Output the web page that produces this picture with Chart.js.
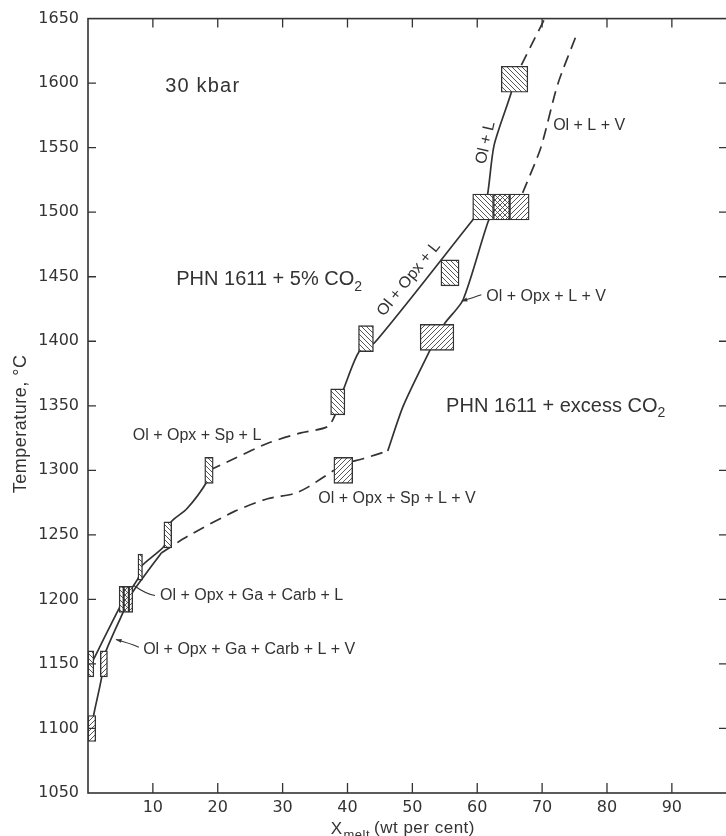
<!DOCTYPE html>
<html>
<head>
<meta charset="utf-8">
<title>PHN 1611 melting at 30 kbar</title>
<script src="https://cdn.jsdelivr.net/npm/chart.js@4.4.1/dist/chart.umd.min.js"></script>
<style>
  html, body { margin: 0; padding: 0; background: #fff; overflow: hidden; }
  #wrap { width: 740px; height: 836px; }
</style>
</head>
<body>
<div id="wrap"><canvas id="myChart" width="740" height="836"></canvas></div>
<script>
'use strict';

//tick values on the axes
let xTickValues = [10, 20, 30, 40, 50, 60, 70, 80, 90];
let tempTickValues = [1050, 1100, 1150, 1200, 1250, 1300, 1350, 1400, 1450, 1500, 1550, 1600, 1650];

//PHN 1611 + 5% CO2 curve, [X melt, T]
let fiveLow = [[0.5, 1150], [4.8, 1193], [6.0, 1203], [7.8, 1217], [8.1, 1225], [11.7, 1241], [12.3, 1250], [12.8, 1260], [15.2, 1270], [18.3, 1291], [18.7, 1300]];
let fiveDash = [[18.7, 1300], [22.5, 1309], [27.7, 1321], [32.8, 1329], [37.0, 1334], [38.3, 1345]];
let fiveMid = [[38.5, 1352], [39.4, 1363], [41.8, 1392], [44.2, 1399], [59.3, 1494], [60.9, 1504], [61.6, 1514], [62.6, 1552], [65.2, 1592], [65.7, 1603]];
let fiveTop = [[66.8, 1614], [68.3, 1629], [70.3, 1649]];

//PHN 1611 + excess CO2 curve, [X melt, T]
let excessLow = [[0.6, 1100], [0.9, 1111], [1.8, 1132], [2.5, 1150], [2.7, 1159], [5.4, 1190], [6.2, 1200], [7.2, 1208], [11.3, 1236]];
let excessDash = [[11.3, 1236], [15.4, 1249], [22.5, 1268], [27.7, 1278], [31.8, 1282], [33.9, 1287], [37.9, 1300]];
let excessDash2 = [[40.8, 1307], [42.4, 1309], [46.2, 1315]];
let excessMid = [[46.2, 1315], [48.6, 1350], [52.7, 1393], [53.8, 1403], [55.0, 1414], [57.8, 1432], [61.7, 1493], [63.0, 1504]];
let excessTop = [[67.0, 1515], [69.8, 1550], [72.4, 1599], [75.5, 1640]];

//experiment brackets: temperature, X melt range, which run
let boxTemp = [1100, 1150, 1150, 1200, 1200, 1200, 1225, 1250, 1300, 1300, 1353, 1402, 1403, 1453, 1504, 1504, 1504, 1603];
let boxFrom = [0, 0, 1.9, 4.8, 5.5, 6.3, 7.7, 11.7, 18.0, 37.9, 37.4, 41.7, 51.2, 54.4, 59.3, 62.5, 65.0, 63.7];
let boxTo = [1.2, 0.9, 3.0, 5.5, 6.3, 6.9, 8.4, 12.9, 19.3, 40.8, 39.6, 44.0, 56.4, 57.2, 62.5, 65.0, 68.0, 67.8];
let boxRun = ['excess', 'five', 'excess', 'five', 'both', 'excess', 'five', 'five', 'five', 'excess', 'five', 'five', 'excess', 'five', 'five', 'both', 'excess', 'five'];

let ink = '#333333';

//hatch pattern for the brackets
function hatch(back, fwd) {
    let size = 5;
    let c = document.createElement('canvas');
    c.width = size;
    c.height = size;
    let g = c.getContext('2d');
    g.fillStyle = '#ffffff';
    g.fillRect(0, 0, size, size);
    g.strokeStyle = '#444444';
    g.lineWidth = 0.9;
    g.beginPath();
    for (let k = -size; k <= size; k += size) {
        if (back) {
            g.moveTo(k, 0);
            g.lineTo(k + size, size);
        }
        if (fwd) {
            g.moveTo(k + size, 0);
            g.lineTo(k, size);
        }
    }
    g.stroke();
    return g.createPattern(c, 'repeat');
}
let patterns = { five: hatch(true, false), excess: hatch(false, true), both: hatch(true, true) };

function toPoints(list) {
    return list.map(p => ({ x: p[0], y: p[1] }));
}

function curve(list, dashed) {
    return {
        type: 'line',
        data: toPoints(list),
        borderColor: ink,
        borderWidth: 1.7,
        borderDash: dashed ? [12, 7] : [],
        pointRadius: 0,
        tension: 0.25,
        fill: false,
        order: 1
    };
}

//labels drawn on the plot, parts are [text, subscript]
let notes = [
    { parts: [['30 kbar']], x: 11.9, t: 1599, size: 20, spacing: 1.2 },
    { parts: [['PHN 1611 + 5% CO'], ['2', true]], x: 13.6, t: 1449, size: 20 },
    { parts: [['PHN 1611 + excess CO'], ['2', true]], x: 55.2, t: 1351, size: 20 },
    { parts: [['Ol + L + V']], x: 71.7, t: 1568, size: 16 },
    { parts: [['Ol + L']], x: 61.1, t: 1554, size: 16, rot: -77, center: true },
    { parts: [['Ol + Opx + L']], x: 49.3, t: 1449, size: 16, rot: -51, center: true },
    { parts: [['Ol + Opx + L + V']], x: 61.4, t: 1436, size: 16 },
    { parts: [['Ol + Opx + Sp + L']], x: 6.9, t: 1328, size: 16 },
    { parts: [['Ol + Opx + Sp + L + V']], x: 35.5, t: 1279, size: 16 },
    { parts: [['Ol + Opx + Ga + Carb + L']], x: 11.1, t: 1204, size: 16 },
    { parts: [['Ol + Opx + Ga + Carb + L + V']], x: 8.5, t: 1162, size: 16 }
];
//leader lines from a label to its curve: from, to, arrow head at the curve
let leaders = [
    { from: [10.8, 1203], mid: [9.0, 1204], to: [7.0, 1211], arrow: false },
    { from: [8.3, 1163], mid: [6.5, 1166], to: [4.3, 1169], arrow: true },
    { from: [61.1, 1436], mid: [59.5, 1434], to: [57.6, 1431], arrow: true }
];

function drawParts(ctx, parts, size) {
    let cx = 0;
    parts.forEach(p => {
        let s = p[1] ? Math.round(size * 0.72) : size;
        ctx.font = s + 'px "Liberation Sans"';
        ctx.fillText(p[0], cx, p[1] ? size * 0.28 : 0);
        cx += ctx.measureText(p[0]).width;
    });
    return cx;
}

function partsWidth(ctx, parts, size) {
    let w = 0;
    parts.forEach(p => {
        let s = p[1] ? Math.round(size * 0.72) : size;
        ctx.font = s + 'px "Liberation Sans"';
        w += ctx.measureText(p[0]).width;
    });
    return w;
}

const decorPlugin = {
    id: 'decor',
    afterDraw(chart) {
        const ctx = chart.ctx;
        const a = chart.chartArea;
        const xs = chart.scales.x;
        const ys = chart.scales.y;
        ctx.save();
        ctx.strokeStyle = ink;
        ctx.fillStyle = ink;
        //frame
        ctx.lineWidth = 1.6;
        ctx.strokeRect(a.left, a.top, a.right - a.left, a.bottom - a.top);
        //inward ticks on all four sides
        ctx.lineWidth = 1.3;
        ctx.beginPath();
        xTickValues.forEach(v => {
            let px = xs.getPixelForValue(v);
            ctx.moveTo(px, a.bottom);
            ctx.lineTo(px, a.bottom - 10);
            ctx.moveTo(px, a.top);
            ctx.lineTo(px, a.top + 9);
        });
        tempTickValues.slice(1, -1).forEach(v => {
            let py = ys.getPixelForValue(v);
            ctx.moveTo(a.left, py);
            ctx.lineTo(a.left + 8, py);
            ctx.moveTo(a.right, py);
            ctx.lineTo(a.right - 8, py);
        });
        ctx.stroke();

        //labels on the plot
        ctx.textBaseline = 'alphabetic';
        ctx.textAlign = 'left';
        notes.forEach(n => {
            ctx.save();
            ctx.letterSpacing = (n.spacing || 0) + 'px';
            ctx.translate(xs.getPixelForValue(n.x), ys.getPixelForValue(n.t));
            if (n.rot) {
                ctx.rotate(n.rot * Math.PI / 180);
            }
            let dx = n.center ? -partsWidth(ctx, n.parts, n.size) / 2 : 0;
            ctx.translate(dx, n.size * 0.36);
            drawParts(ctx, n.parts, n.size);
            ctx.restore();
        });

        //leader lines
        ctx.lineWidth = 1.1;
        leaders.forEach(l => {
            let x0 = xs.getPixelForValue(l.from[0]), y0 = ys.getPixelForValue(l.from[1]);
            let xm = xs.getPixelForValue(l.mid[0]), ym = ys.getPixelForValue(l.mid[1]);
            let x1 = xs.getPixelForValue(l.to[0]), y1 = ys.getPixelForValue(l.to[1]);
            ctx.beginPath();
            ctx.moveTo(x0 - 3, y0);
            ctx.quadraticCurveTo(xm, ym, x1, y1);
            ctx.stroke();
            if (l.arrow) {
                let ang = Math.atan2(y1 - ym, x1 - xm);
                ctx.beginPath();
                ctx.moveTo(x1, y1);
                ctx.lineTo(x1 - 6 * Math.cos(ang - 0.35), y1 - 6 * Math.sin(ang - 0.35));
                ctx.lineTo(x1 - 6 * Math.cos(ang + 0.35), y1 - 6 * Math.sin(ang + 0.35));
                ctx.closePath();
                ctx.fill();
            }
        });

        //axis titles
        ctx.save();
        ctx.letterSpacing = '0.5px';
        ctx.translate(20, ys.getPixelForValue(1336));
        ctx.rotate(-Math.PI / 2);
        ctx.font = '18px "Liberation Sans"';
        let tw = ctx.measureText('Temperature, °C').width;
        ctx.fillText('Temperature, °C', -tw / 2, 6);
        ctx.restore();

        ctx.save();
        ctx.letterSpacing = '0.5px';
        let tx = xs.getPixelForValue(37.4);
        let ty = a.bottom + 41;
        ctx.font = '17px "Liberation Sans"';
        ctx.fillText('X', tx, ty);
        tx += ctx.measureText('X').width + 1;
        ctx.font = '13px "Liberation Sans"';
        ctx.fillText('melt', tx, ty + 5);
        tx += ctx.measureText('melt').width + 4;
        ctx.font = '17px "Liberation Sans"';
        ctx.fillText('(wt per cent)', tx, ty - 1);
        ctx.restore();

        ctx.restore();
    }
};

let boxData = boxTemp.map((t, i) => ({ x: [boxFrom[i], boxTo[i]], y: t }));

let datasets = [
    {
        type: 'bar',
        indexAxis: 'y',
        data: boxData,
        backgroundColor: boxRun.map(r => patterns[r]),
        borderColor: ink,
        borderWidth: 1.4,
        borderSkipped: false,
        barThickness: 26,
        order: 0
    },
    curve(fiveLow, false),
    curve(fiveDash, true),
    curve(fiveMid, false),
    curve(fiveTop, true),
    curve(excessLow, false),
    curve(excessDash, true),
    curve(excessDash2, true),
    curve(excessMid, false),
    curve(excessTop, true)
];

Chart.defaults.font.family = '"DejaVu Sans"';
Chart.defaults.color = ink;

let ctx = document.getElementById('myChart').getContext('2d');
let chart = new Chart(ctx, {
    type: 'line',
    data: { datasets: datasets },
    options: {
        responsive: false,
        animation: false,
        events: [],
        layout: { padding: { top: 17, right: 13, left: 0, bottom: 0 } },
        plugins: { legend: { display: false }, tooltip: { enabled: false } },
        scales: {
            x: {
                type: 'linear',
                min: 0,
                max: 98.5,
                offset: false,
                grid: { display: false, drawTicks: false },
                border: { display: false },
                ticks: {
                    stepSize: 10,
                    includeBounds: false,
                    padding: 5,
                    font: { size: 16 },
                    color: ink,
                    maxRotation: 0,
                    autoSkip: false,
                    callback: v => (v > 0 && v % 10 === 0) ? String(v) : ''
                },
                afterFit: scale => { scale.height = 43; }
            },
            y: {
                type: 'linear',
                min: 1050,
                max: 1650,
                offset: false,
                grid: { display: false, drawTicks: false },
                border: { display: false },
                ticks: {
                    stepSize: 50,
                    padding: 9,
                    font: { size: 16 },
                    color: ink,
                    autoSkip: false,
                    callback: v => String(v)
                },
                afterFit: scale => { scale.width = 88; }
            }
        }
    },
    plugins: [decorPlugin]
});
</script>
</body>
</html>
